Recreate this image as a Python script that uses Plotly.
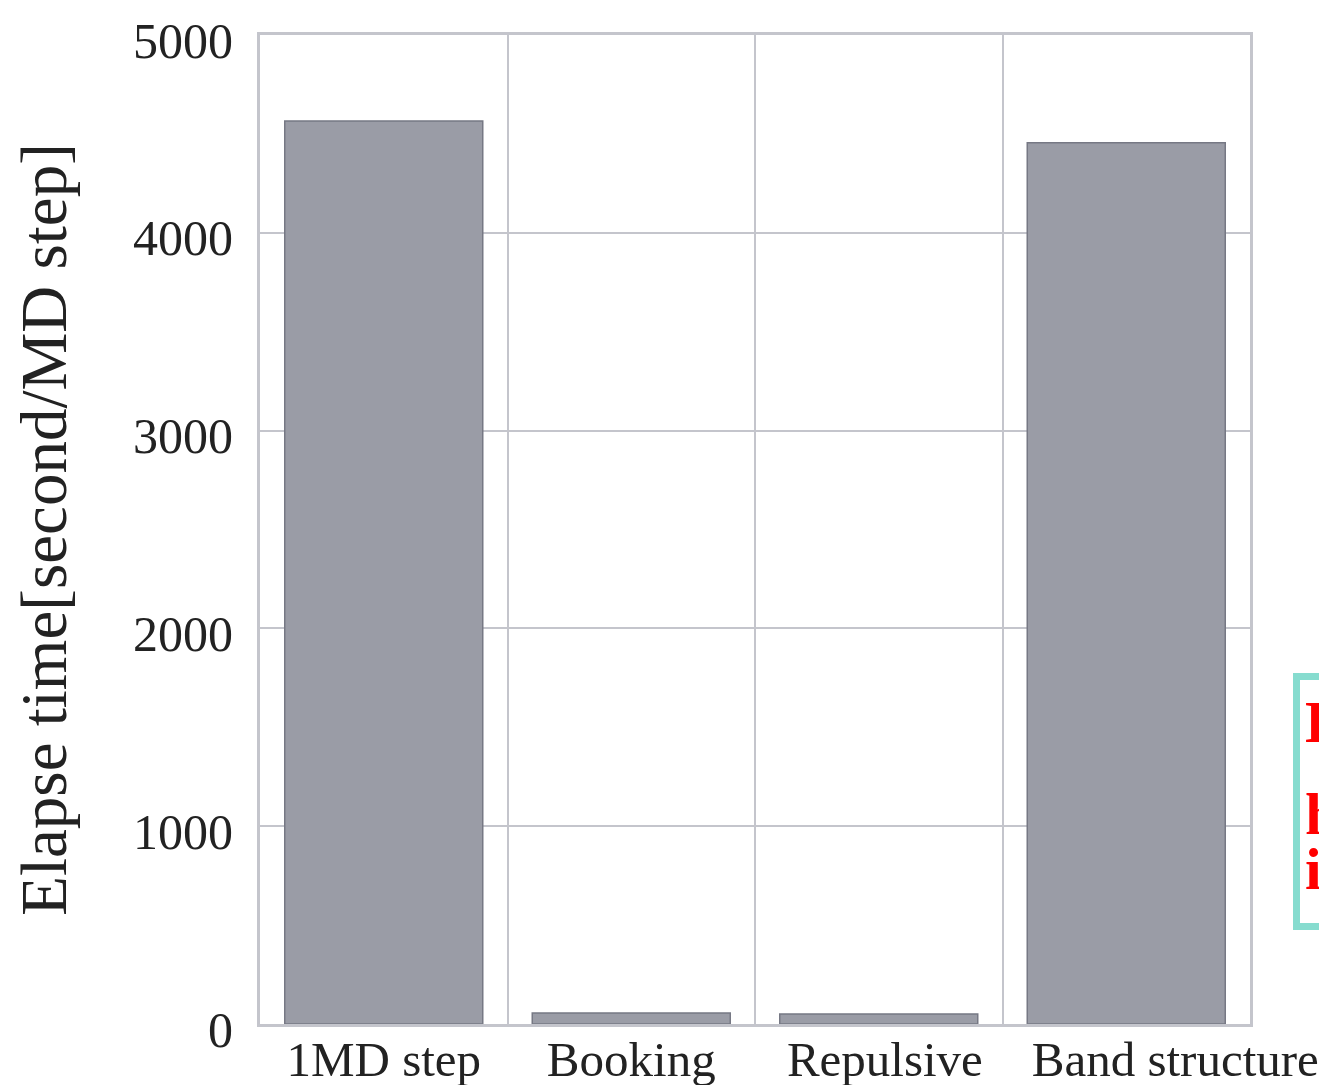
import plotly.graph_objects as go

categories = ["1MD step", "Booking", "Repulsive", "Band structure"]
elapse_time = [4565, 55, 50, 4455]
y_ticks = [0, 1000, 2000, 3000, 4000, 5000]
# leading no-break spaces nudge labels right as in the reference
label_pad = [0, 0, 1, 8]

FONT = "Liberation Serif, Times New Roman, serif"

# page body has an 8px offset; plot area target in page px: x 260..1250, y 35..1024
L, T, PW, PH = 252, 27, 990, 989
W, H = 1327, 1085


def px(xp):
    return (xp - 8 - L) / PW


def py(yp):
    return (T + PH - (yp - 8)) / PH


fig = go.Figure(
    go.Bar(
        x=categories,
        y=elapse_time,
        width=0.8,
        marker=dict(color="#9a9ca6", line=dict(color="#767884", width=1.5)),
    )
)

red_lines = [("Download", 722), ("high-res", 814), ("image", 869)]

fig.update_layout(
    width=W,
    height=H,
    margin=dict(l=L, r=W - L - PW, t=T, b=H - T - PH),
    paper_bgcolor="white",
    plot_bgcolor="white",
    showlegend=False,
    font=dict(family=FONT, color="#222222"),
    shapes=[
        dict(
            type="rect", xref="paper", yref="paper",
            x0=px(1296.5), x1=px(1500), y0=py(926.5), y1=py(676.5),
            line=dict(color="#86dccf", width=7),
            fillcolor="white", layer="above",
        )
    ],
    annotations=[
        dict(
            xref="paper", yref="paper",
            x=px(1303), y=py(yc),
            xanchor="left", yanchor="middle",
            text="<b>%s</b>" % t,
            showarrow=False,
            font=dict(family=FONT, size=60, color="#ff0000"),
        )
        for t, yc in red_lines
    ],
)

fig.update_xaxes(
    type="category",
    tickson="boundaries",
    tickvals=categories,
    ticktext=["\u00a0" * p + c for p, c in zip(label_pad, categories)],
    showgrid=True,
    gridcolor="#c4c5cc",
    gridwidth=2,
    showline=True,
    linecolor="#c4c5cc",
    linewidth=3,
    mirror=True,
    ticks="",
    tickangle=0,
    automargin=False,
    ticklabelstandoff=-10,
    tickfont=dict(family=FONT, size=49, color="#222222"),
)

fig.update_yaxes(
    range=[0, 5000],
    tickvals=y_ticks,
    ticktext=[str(v) for v in y_ticks],
    showgrid=True,
    gridcolor="#c4c5cc",
    gridwidth=2,
    showline=True,
    linecolor="#c4c5cc",
    linewidth=3,
    mirror=True,
    zeroline=False,
    ticks="",
    automargin=False,
    ticklabelstandoff=14,
    ticklabelshift=5,
    tickfont=dict(family=FONT, size=50, color="#222222"),
    title=dict(
        text="Elapse time[second/MD step]",
        font=dict(family=FONT, size=65, color="#222222"),
        standoff=47,
    ),
)

fig.write_html("out.html")
